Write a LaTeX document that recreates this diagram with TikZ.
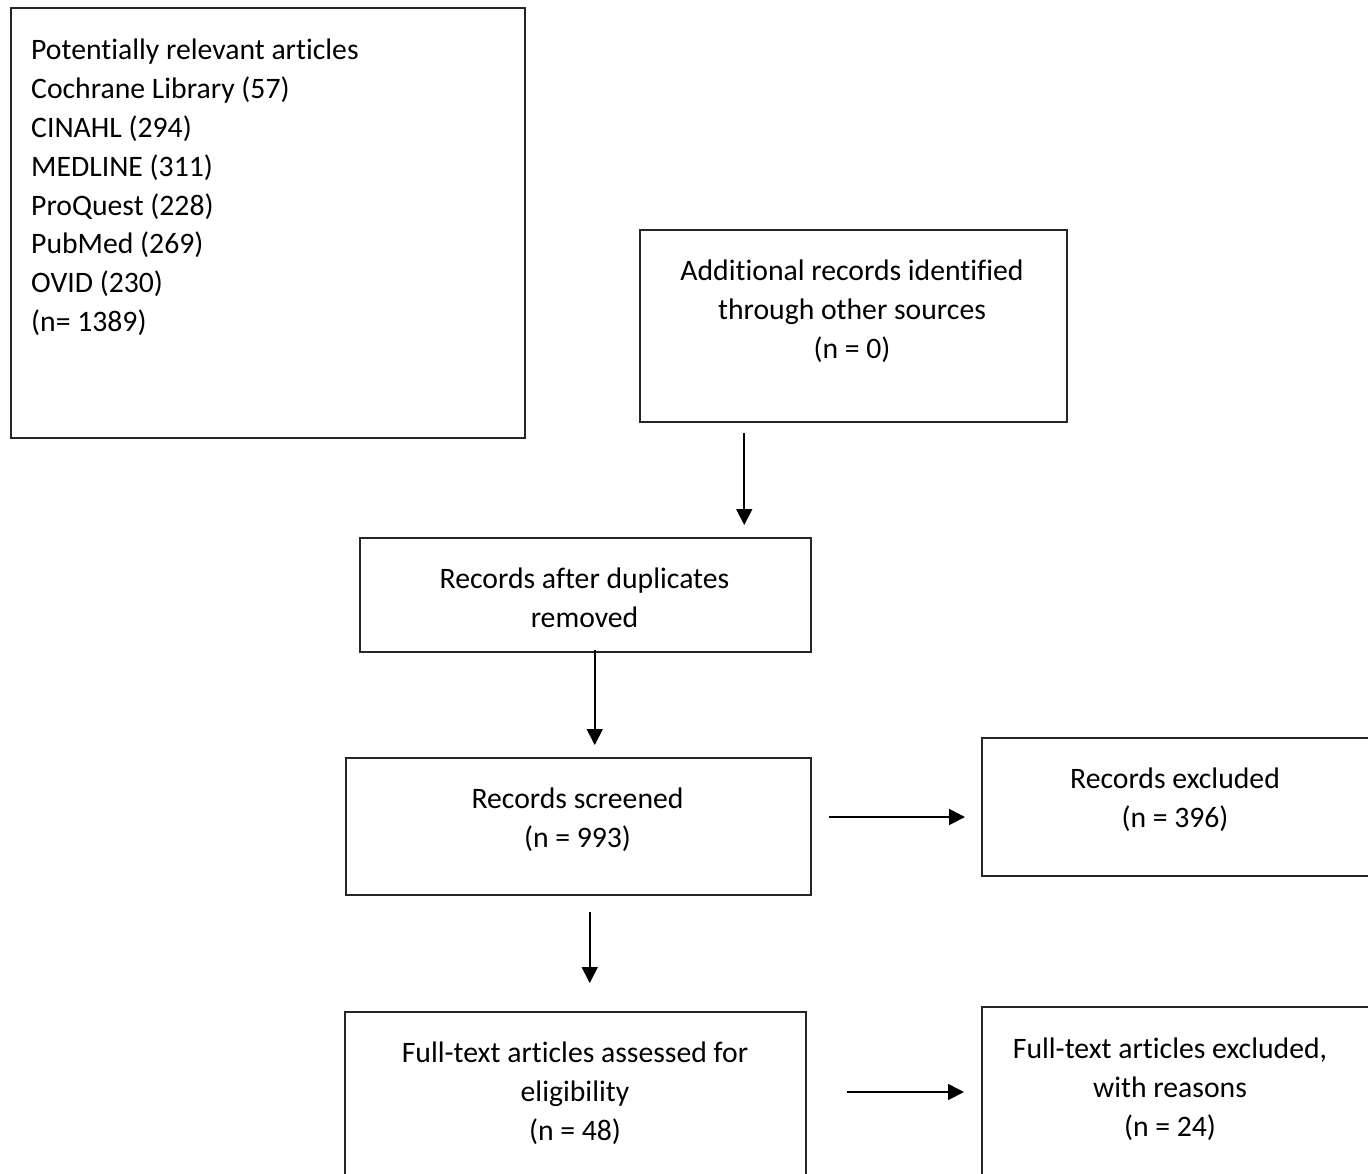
\documentclass[tikz,border=0pt]{standalone}
\usepackage{fontspec}
\setmainfont{Carlito}[Ligatures=NoCommon]
\usepackage{tikz}
\usetikzlibrary{positioning,calc,arrows.meta}

\begin{document}
\begin{tikzpicture}[x=1pt, y=-1pt, box/.style={draw=black!85, line width=1.5pt, anchor=north west, inner sep=0pt}, txt/.style={inner sep=0pt, anchor=north, align=center, font=\fontsize{29.7}{38.8}\selectfont}, arrow/.style={-{Triangle[length=16pt,width=16pt]}, draw=black, line width=1.8pt}]
\useasboundingbox (0,0) rectangle (1368,1173);
% boxes
\node[box, minimum width=514pt, minimum height=430pt] (search) at (10,7) {};
\node[box, minimum width=427pt, minimum height=192pt] (other) at (639,229) {};
\node[box, minimum width=451pt, minimum height=114pt] (dup) at (359,537) {};
\node[box, minimum width=465pt, minimum height=137pt] (screen) at (345,757) {};
\node[box, minimum width=430pt, minimum height=138pt] (excl) at (981,737) {};
\node[box, minimum width=461pt, minimum height=200pt] (full) at (344,1011) {};
\node[box, minimum width=430pt, minimum height=200pt] (fexcl) at (981,1006) {};
% texts
\node[txt, anchor=north west, align=left] (search-t) at (31,39) {Potentially relevant articles\\Cochrane Library (57)\\CINAHL (294)\\MEDLINE (311)\\ProQuest (228)\\PubMed (269)\\OVID (230)\\(n= 1389)};
\node[txt] (other-t) at (852,260) {Additional records identified\\through other sources\\(n = 0)};
\node[txt] (dup-t) at (584.5,568) {Records after duplicates\\removed};
\node[txt] (screen-t) at (577.5,788) {Records screened\\(n = 993)};
\node[txt] (excl-t) at (1175,768) {Records excluded\\(n = 396)};
\node[txt] (full-t) at (575,1042) {Full-text articles assessed for\\eligibility\\(n = 48)};
\node[txt] (fexcl-t) at (1170,1038) {Full-text articles excluded,\\with reasons\\(n = 24)};
% arrows
\draw[arrow, shorten <=10pt, shorten >=12pt] ([xshift=-109pt]other.south) -- ([xshift=-109pt]other.south |- dup.north);
\draw[arrow, shorten <=-3pt, shorten >=12pt] ([xshift=9.5pt]dup.south) -- ([xshift=9.5pt]dup.south |- screen.north);
\draw[arrow, shorten <=16pt, shorten >=28pt] ([xshift=11.5pt]screen.south) -- ([xshift=11.5pt]screen.south |- full.north);
\draw[arrow, shorten <=17pt, shorten >=16pt] ([yshift=-60pt]screen.north east) -- ([yshift=-60pt]screen.north east -| excl.west);
\draw[arrow, shorten <=40pt, shorten >=17pt] ([yshift=-81pt]full.north east) -- ([yshift=-81pt]full.north east -| fexcl.west);
\end{tikzpicture}
\end{document}
